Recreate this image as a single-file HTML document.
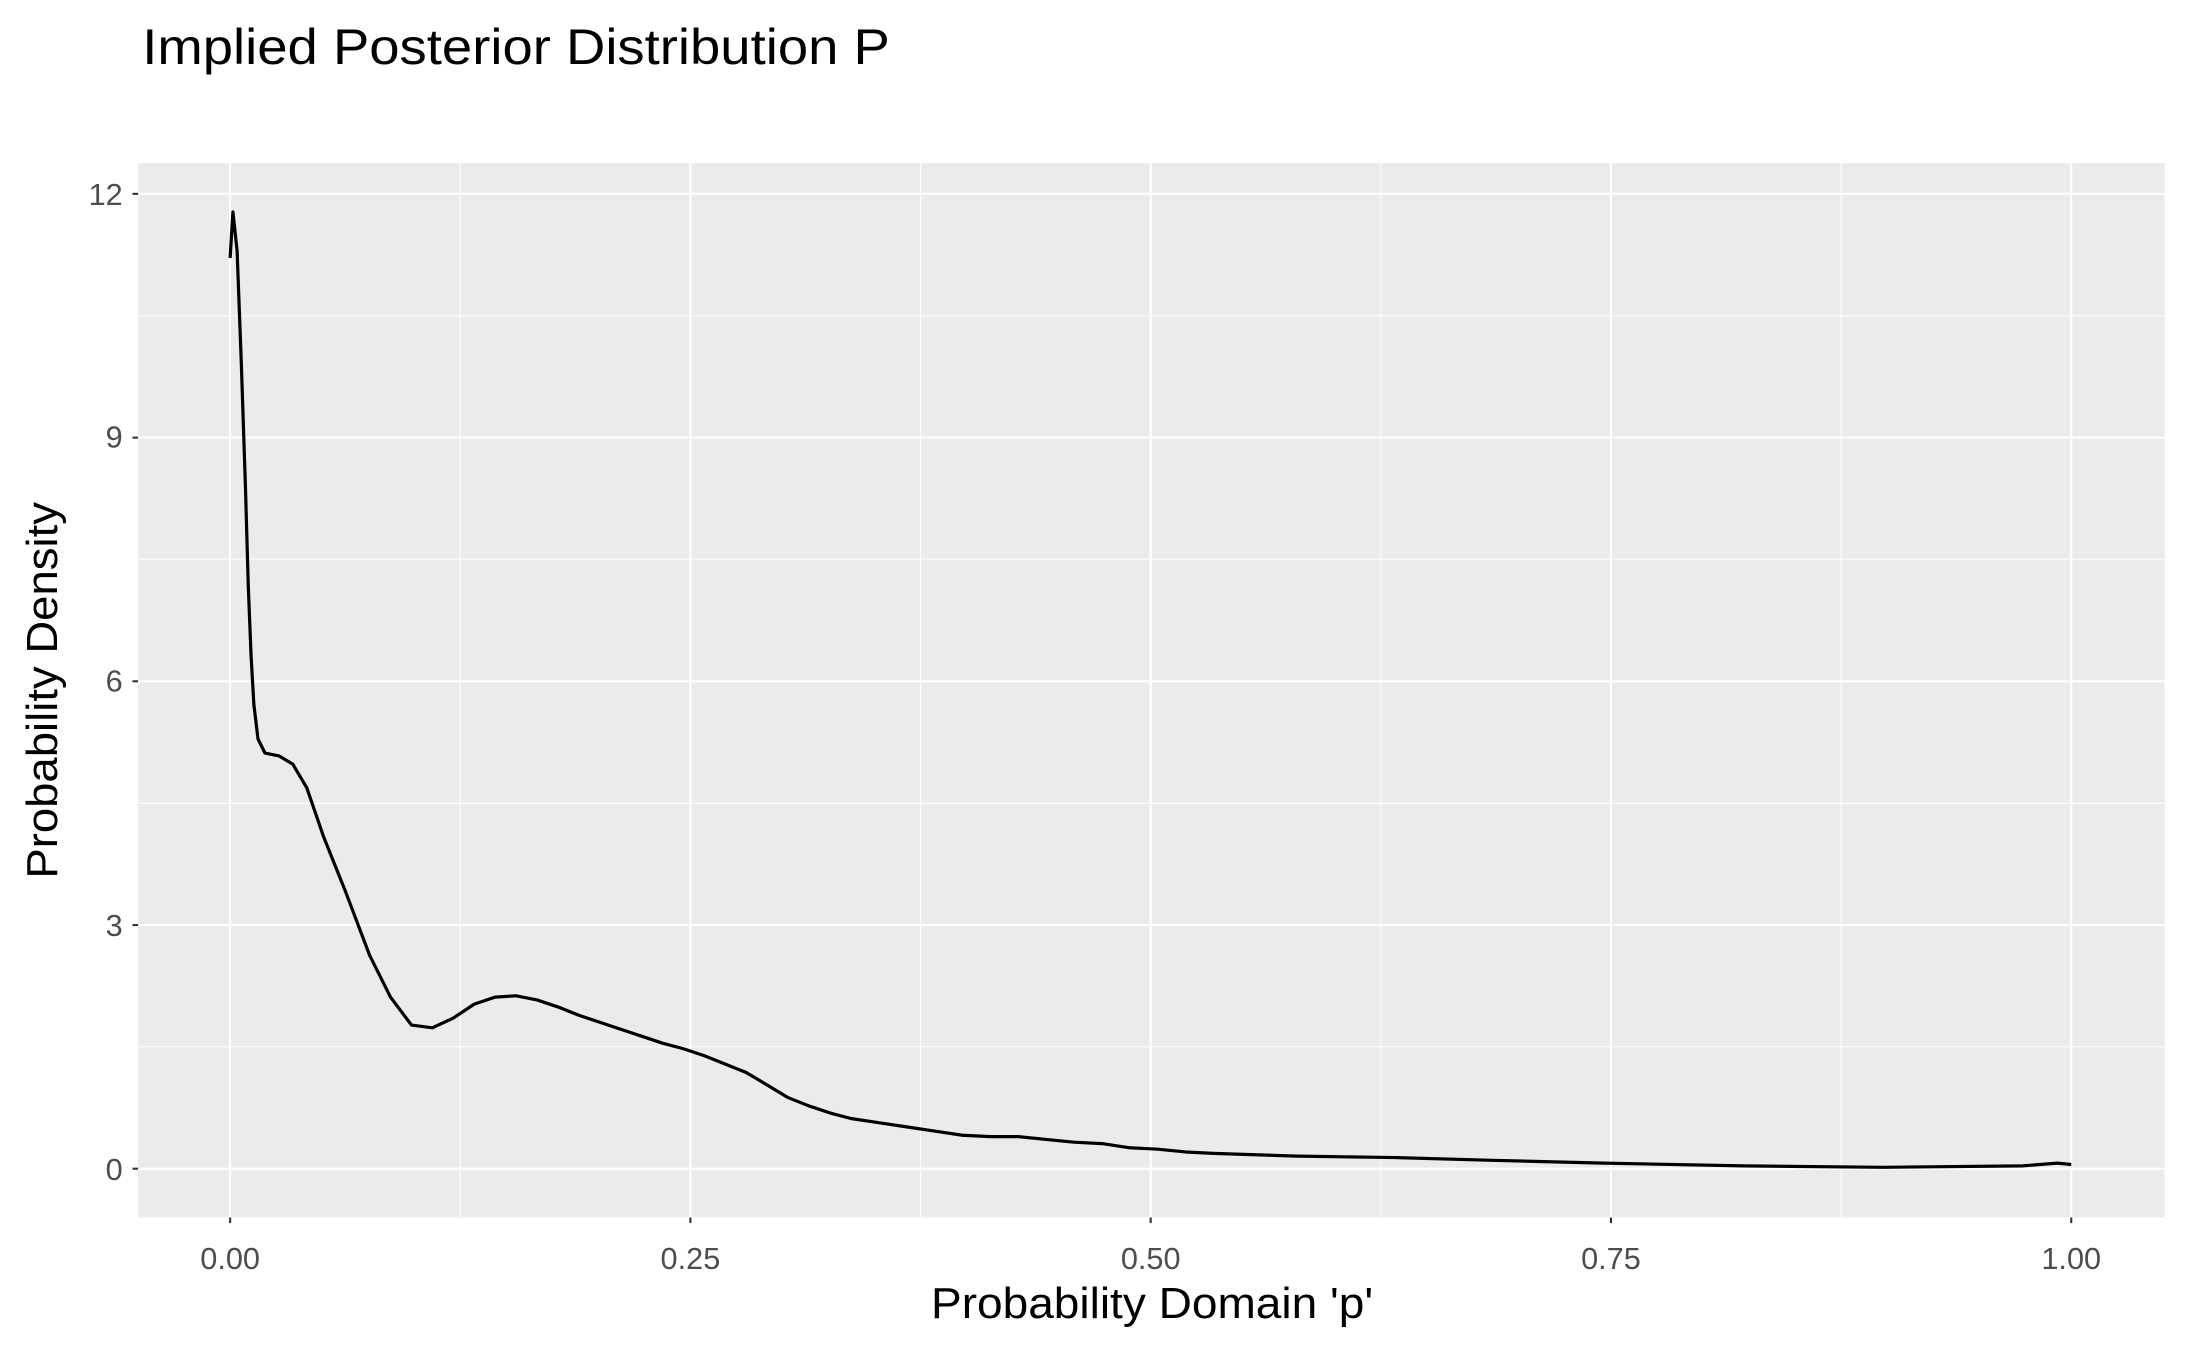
<!DOCTYPE html>
<html><head><meta charset="utf-8"><style>html,body{margin:0;padding:0;background:#fff}svg{display:block}</style></head>
<body>
<svg width="2187" height="1350" viewBox="0 0 1568 968" preserveAspectRatio="none" xmlns="http://www.w3.org/2000/svg" font-family="Liberation Sans, sans-serif">
<rect width="1568" height="968" fill="#fff"/>
<text x="102" y="46" font-size="36" fill="#000" textLength="536" lengthAdjust="spacingAndGlyphs">Implied Posterior Distribution P</text>
<rect x="99" y="117" width="1453" height="756" fill="#ebebeb"/>
<g stroke="#fff" stroke-width="0.75">
<line x1="99" x2="1552" y1="750.6" y2="750.6"/><line x1="99" x2="1552" y1="576" y2="576"/><line x1="99" x2="1552" y1="401" y2="401"/><line x1="99" x2="1552" y1="226.4" y2="226.4"/>
<line x1="330" x2="330" y1="117" y2="873"/><line x1="660" x2="660" y1="117" y2="873"/><line x1="990" x2="990" y1="117" y2="873"/><line x1="1320" x2="1320" y1="117" y2="873"/>
</g>
<g stroke="#fff" stroke-width="1.5">
<line x1="99" x2="1552" y1="838" y2="838"/><line x1="99" x2="1552" y1="663.3" y2="663.3"/><line x1="99" x2="1552" y1="488.5" y2="488.5"/><line x1="99" x2="1552" y1="313.8" y2="313.8"/><line x1="99" x2="1552" y1="139" y2="139"/>
<line x1="165" x2="165" y1="117" y2="873"/><line x1="495" x2="495" y1="117" y2="873"/><line x1="825" x2="825" y1="117" y2="873"/><line x1="1155" x2="1155" y1="117" y2="873"/><line x1="1485" x2="1485" y1="117" y2="873"/>
</g>
<polyline fill="none" stroke="#000" stroke-width="2.3" stroke-linejoin="round" points="165,185 167,152 170,180 173,260 176,350 178,420 180,470 182,505 185,530 190,540 200,542 210,548 220,565 232,600 248,640 265,685 280,715 295,735 310,737 325,730 340,720 355,715 370,714 385,717 400,722 415,728 430,733 445,738 460,743 475,748 490,752 505,757 520,763 535,769 550,778 565,787 580,793 595,798 610,802 630,805 650,808 670,811 690,814 710,815 730,815 750,817 770,819 790,820 810,823 830,824 850,826 870,827 900,828 930,829 1000,830 1070,832 1150,834 1250,836 1350,837 1450,836 1475,834 1485,835"/>
<g stroke="#333" stroke-width="1.5">
<line x1="95" x2="99" y1="838" y2="838"/><line x1="95" x2="99" y1="663.3" y2="663.3"/><line x1="95" x2="99" y1="488.5" y2="488.5"/><line x1="95" x2="99" y1="313.8" y2="313.8"/><line x1="95" x2="99" y1="139" y2="139"/>
<line x1="165" x2="165" y1="873" y2="877"/><line x1="495" x2="495" y1="873" y2="877"/><line x1="825" x2="825" y1="873" y2="877"/><line x1="1155" x2="1155" y1="873" y2="877"/><line x1="1485" x2="1485" y1="873" y2="877"/>
</g>
<g font-size="22" fill="#4d4d4d" text-anchor="end">
<text x="88" y="846">0</text><text x="88" y="671">3</text><text x="88" y="496">6</text><text x="88" y="321">9</text><text x="88" y="147">12</text>
</g>
<g font-size="22" fill="#4d4d4d" text-anchor="middle">
<text x="165" y="910">0.00</text><text x="495" y="910">0.25</text><text x="825" y="910">0.50</text><text x="1155" y="910">0.75</text><text x="1485" y="910">1.00</text>
</g>
<text x="826" y="945" font-size="31" text-anchor="middle" fill="#000" textLength="317" lengthAdjust="spacingAndGlyphs">Probability Domain 'p'</text>
<text transform="translate(41,495) rotate(-90)" font-size="31" text-anchor="middle" fill="#000" textLength="270" lengthAdjust="spacingAndGlyphs">Probability Density</text>
</svg>
</body></html>
